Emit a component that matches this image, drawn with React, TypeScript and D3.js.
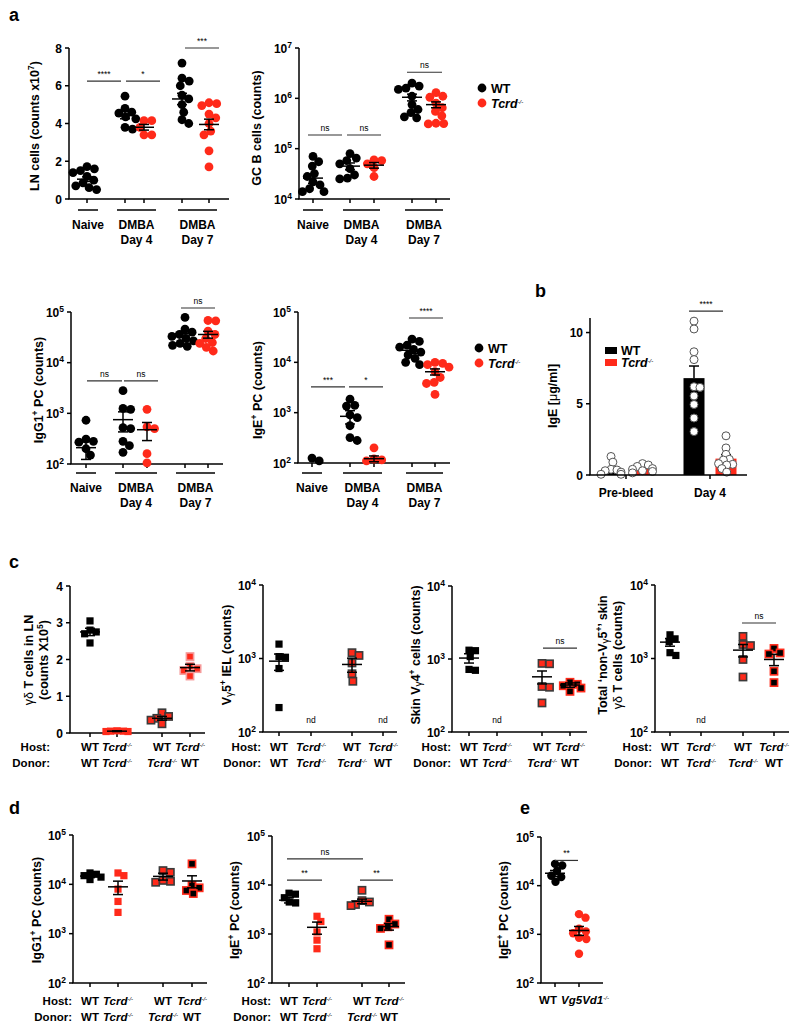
import React from 'react';
import * as d3 from 'd3';

// ================= DATA =================
// Panel a — groups: Naive WT, DMBA D4 WT, DMBA D4 Tcrd-/-, DMBA D7 WT, DMBA D7 Tcrd-/-
const aGenotypes = ['WT', 'WT', 'Tcrd', 'WT', 'Tcrd'];
const aConditionLabels = ['Naive', 'DMBA', 'DMBA'];
const aDayLabels = ['', 'Day 4', 'Day 7'];

const lnTicks = [0, 2, 4, 6, 8];
const lnValues = [
  [1.72, 1.6, 1.5, 1.4, 1.2, 1.0, 0.85, 0.7, 0.6, 0.5],
  [5.45, 4.8, 4.6, 4.55, 4.35, 4.25, 3.8, 3.7],
  [4.15, 4.15, 3.8, 3.4, 3.4],
  [7.2, 6.4, 6.25, 6.0, 5.5, 5.3, 5.0, 4.6, 4.2, 4.0],
  [5.1, 5.05, 4.95, 4.5, 4.3, 4.0, 3.6, 3.4, 2.55, 1.7],
];
const lnMeans = [1.05, 4.45, 3.8, 5.3, 3.95];
const lnSems = [0.12, 0.2, 0.15, 0.3, 0.28];

const gcTicks = [1e4, 1e5, 1e6, 1e7];
const gcValues = [
  [70000, 55000, 45000, 32000, 28000, 22000, 19000, 16000, 14000, 14000],
  [80000, 65000, 58000, 50000, 40000, 30000, 26000, 25000],
  [60000, 58000, 50000, 42000, 28000],
  [2.0e6, 1.75e6, 1.6e6, 1.5e6, 1.1e6, 7.5e5, 6e5, 5.2e5, 4.3e5, 4.1e5],
  [1.3e6, 1.1e6, 1.05e6, 8e5, 6.5e5, 5.5e5, 4.5e5, 3.2e5, 3.15e5, 3.1e5],
];
const gcMeans = [26000, 45000, 47000, 1.05e6, 7.5e5];
const gcSems = [5500, 7000, 6000, 1.6e5, 1.0e5];

const pcTicks = [1e2, 1e3, 1e4, 1e5];
const igg1Values = [
  [730, 310, 280, 270, 200, 150],
  [2800, 1250, 1200, 520, 500, 280, 230, 170],
  [1200, 540, 500, 160, 105],
  [78000, 46000, 40000, 36000, 33000, 30000, 27000, 24000, 22000, 21000],
  [68000, 67000, 42000, 36000, 30000, 25000, 24000, 20000, 17000],
];
const igg1Means = [210, 750, 475, 37600, 36000];
const igg1Sems = [87, 320, 185, 4000, 5500];

const igeValues = [
  [125, 110],
  [1850, 1400, 1350, 900, 800, 550, 320, 280],
  [200, 120, 115, 110],
  [29000, 26000, 22000, 20000, 18000, 16000, 14000, 12000, 10000, 9000],
  [10000, 9500, 9000, 8000, 6500, 5000, 4000, 3800, 2300],
];
const igeMeans = [null, 846, 122, 17400, 6500];
const igeSems = [0, 250, 16, 2500, 900];

// Panel b — serum IgE (µg/ml)
const bCategories = ['Pre-bleed', 'Day 4'];
const bTicks = [0, 5, 10];
const bValues = [
  [1.3, 0.9, 0.4, 0.35, 0.3, 0.2, 0.05, 0.05],
  [0.8, 0.7, 0.6, 0.45, 0.4, 0.3, 0.25, 0.15],
  [10.8, 10.25, 8.65, 8.1, 6.2, 6.15, 5.55, 4.95, 4.0, 3.05],
  [2.75, 1.9, 1.45, 1.1, 1.05, 0.8, 0.75, 0.7, 0.45, 0.2],
];
const bMeans = [0.3, 0.5, 6.8, 1.15];
const bSems = [0.15, 0.08, 0.85, 0.28];

// Panel c / d — chimeras: host / donor
const chimeraHost = ['WT', 'Tcrd', 'WT', 'Tcrd'];
const chimeraDonor = ['WT', 'Tcrd', 'Tcrd', 'WT'];

const gdTicks = [0, 1, 2, 3, 4];
const gdValues = [
  [3.05, 2.8, 2.75, 2.7, 2.45],
  [0.06, 0.05, 0.05, 0.04, 0.04],
  [0.55, 0.45, 0.4, 0.35, 0.25],
  [2.08, 1.82, 1.75, 1.7, 1.55],
];
const gdMeans = [2.75, 0.05, 0.4, 1.78];
const gdSems = [0.1, 0.01, 0.05, 0.09];

const cLogTicks = [1e2, 1e3, 1e4];
const ielValues = [[1570, 1060, 1040, 730, 215], [], [1200, 1100, 870, 620, 490], []];
const ielMeans = [920, null, 830, null];
const ielSems = [230, 0, 180, 0];

const skinV4Values = [[1320, 1300, 1080, 720, 700], [], [870, 860, 420, 410, 250], [480, 450, 430, 400, 360]];
const skinV4Means = [1030, null, 570, 440];
const skinV4Sems = [150, 0, 115, 30];

const nonV5Values = [[2100, 1850, 1700, 1200, 1100], [], [2000, 1550, 1500, 970, 560], [1370, 1190, 1150, 670, 470]];
const nonV5Means = [1670, null, 1300, 970];
const nonV5Sems = [200, 0, 250, 170];

const dIgg1Values = [
  [17000, 16000, 15000, 14000, 12500],
  [17000, 15000, 8000, 4500, 2700],
  [19000, 17500, 12000, 11500, 11000],
  [26000, 9500, 8500, 7500, 6500],
];
const dIgg1Means = [14700, 8900, 14500, 11700];
const dIgg1Sems = [1000, 2700, 2300, 3200];

const dIgeValues = [
  [6800, 6500, 5500, 4500, 4300],
  [2300, 1800, 1100, 750, 500],
  [7800, 4800, 4500, 4000, 3800],
  [2000, 1600, 1400, 1300, 600],
];
const dIgeMeans = [4900, 1370, 4650, 1420];
const dIgeSems = [600, 380, 500, 220];

// Panel e
const eCategories = ['WT', 'Vg5Vd1'];
const eValues = [
  [28000, 26000, 20000, 16000, 15000, 12000],
  [2600, 2200, 1300, 1150, 1050, 850, 800, 400],
];
const eMeans = [18000, 1200];
const eSems = [2500, 250];

// ================= STYLE =================
const FONT = "'Liberation Sans', Arial, Helvetica, sans-serif";
const NARROW = "'Liberation Sans Narrow', 'Liberation Sans', Arial, sans-serif";
const RED = '#ff2a1a';

type Style = { shape: 'circle' | 'square'; fill: string; stroke?: string };
const cBlack: Style = { shape: 'circle', fill: '#000' };
const cRed: Style = { shape: 'circle', fill: RED };
const sBlack: Style = { shape: 'square', fill: '#000' };
const sRed: Style = { shape: 'square', fill: RED };
const sRedDark: Style = { shape: 'square', fill: RED, stroke: '#3a3a3a' };
const sBlackRed: Style = { shape: 'square', fill: '#000', stroke: RED };
const sRedPink: Style = { shape: 'square', fill: RED, stroke: '#f59a9a' };

const aStyles = [cBlack, cBlack, cRed, cBlack, cRed];
const chimeraStyles = [sBlack, sRed, sRedDark, sBlackRed];

// ================= HELPERS =================
function swarmOffsets(ys: number[], r: number, factor = 0.88, maxSpread = 14): number[] {
  const order = ys.map((_, i) => i).sort((a, b) => ys[a] - ys[b]);
  const placed: { x: number; y: number }[] = [];
  const out = new Array(ys.length).fill(0);
  const d = 2 * r * factor;
  for (const i of order) {
    const y = ys[i];
    const iv: [number, number][] = [];
    for (const p of placed) {
      const dy = Math.abs(p.y - y);
      if (dy < d) {
        const w = Math.sqrt(d * d - dy * dy);
        iv.push([p.x - w, p.x + w]);
      }
    }
    const cands = [0, ...iv.flatMap(([a, b]) => [a, b])];
    const ok = cands.filter((c) => iv.every(([a, b]) => c <= a + 1e-6 || c >= b - 1e-6));
    ok.sort((a, b) => Math.abs(a) - Math.abs(b) || b - a);
    let xx = ok.length ? ok[0] : 0;
    xx = Math.max(-maxSpread, Math.min(maxSpread, xx));
    placed.push({ x: xx, y });
    out[i] = xx;
  }
  return out;
}

function Geno({ name, supSize = 6 }: { name: string; supSize?: number }) {
  if (name === 'WT') return <tspan>WT</tspan>;
  return (
    <>
      <tspan fontStyle="italic">{name}</tspan>
      <tspan fontStyle="italic" fontWeight="normal" fontSize={supSize} dy={-4}>-/-</tspan>
    </>
  );
}

function TickLabel({ v, log }: { v: number; log: boolean }) {
  if (!log) return <>{String(v)}</>;
  return (
    <>
      <tspan>10</tspan>
      <tspan fontSize={8.5} dy={-5}>{Math.round(Math.log10(v))}</tspan>
    </>
  );
}

interface Panel {
  axisX: number; yTop: number; yBottom: number; xEnd: number;
  log: boolean; domain: [number, number]; ticks: number[];
  groupX: number[]; values: number[][]; means: (number | null)[]; sems: number[];
  styles: Style[];
  sig?: { x1: number; x2: number; v: number; label: string }[];
  nd?: number[]; ndY?: number; r?: number; half?: number;
}

function DotPanel({ p }: { p: Panel }) {
  const y: any = p.log
    ? d3.scaleLog().domain(p.domain).range([p.yBottom, p.yTop])
    : d3.scaleLinear().domain(p.domain).range([p.yBottom, p.yTop]);
  const r = p.r ?? 4.4;
  const half = p.half ?? 3.6;
  return (
    <g>
      {/* axes */}
      <line x1={p.axisX} x2={p.axisX} y1={p.yTop} y2={p.yBottom} stroke="#000" strokeWidth={1.5} />
      <line x1={p.axisX - 0.75} x2={p.xEnd} y1={p.yBottom} y2={p.yBottom} stroke="#000" strokeWidth={1.5} />
      {p.ticks.map((t) => (
        <g key={'t' + t}>
          <line x1={p.axisX - 4} x2={p.axisX} y1={y(t)} y2={y(t)} stroke="#000" strokeWidth={1.5} />
          <text x={p.axisX - 7} y={y(t) + 4.5} textAnchor="end" fontSize={12} fontWeight="bold">
            <TickLabel v={t} log={p.log} />
          </text>
        </g>
      ))}
      {p.groupX.map((gx, i) => (
        <line key={'xt' + i} x1={gx} x2={gx} y1={p.yBottom} y2={p.yBottom + 4} stroke="#000" strokeWidth={1.5} />
      ))}
      {/* points */}
      {p.values.map((vals, gi) => {
        const ys = vals.map((v) => y(v));
        const st = p.styles[gi];
        const sp = st.shape === 'square' ? half + (st.stroke ? 0.6 : 0) : r;
        const dx = swarmOffsets(ys, sp, st.shape === 'square' ? 0.9 : 0.88, st.shape === 'square' ? 11 : 14);
        return (
          <g key={'g' + gi}>
            {ys.map((yy, k) =>
              st.shape === 'circle' ? (
                <circle key={k} cx={p.groupX[gi] + dx[k]} cy={yy} r={r} fill={st.fill} />
              ) : (
                <rect key={k} x={p.groupX[gi] + dx[k] - half} y={yy - half} width={half * 2} height={half * 2}
                  fill={st.fill} stroke={st.stroke ?? 'none'} strokeWidth={st.stroke ? 1.6 : 0} />
              )
            )}
          </g>
        );
      })}
      {/* mean ± SEM */}
      {p.means.map((m, gi) => {
        if (m === null) return null;
        const cx = p.groupX[gi];
        const ym = y(m), yh = y(m + p.sems[gi]), yl = y(Math.max(m - p.sems[gi], p.log ? p.domain[0] : 0));
        return (
          <g key={'m' + gi} stroke="#000" strokeWidth={1.5}>
            <line x1={cx - 10} x2={cx + 10} y1={ym} y2={ym} />
            <line x1={cx} x2={cx} y1={yh} y2={yl} />
            <line x1={cx - 5} x2={cx + 5} y1={yh} y2={yh} />
            <line x1={cx - 5} x2={cx + 5} y1={yl} y2={yl} />
          </g>
        );
      })}
      {/* significance */}
      {(p.sig ?? []).map((s, i) => (
        <g key={'s' + i}>
          <line x1={s.x1} x2={s.x2} y1={y(s.v)} y2={y(s.v)} stroke="#333" strokeWidth={1.2} />
          <text x={(s.x1 + s.x2) / 2} y={y(s.v) - 4} textAnchor="middle" fontSize={8.5} fontFamily={NARROW}>{s.label}</text>
        </g>
      ))}
      {(p.nd ?? []).map((gi) => (
        <text key={'nd' + gi} x={p.groupX[gi]} y={p.ndY ?? 0} textAnchor="middle" fontSize={8.5} fontFamily={NARROW}>nd</text>
      ))}
    </g>
  );
}

function YTitle({ x, y, children, size = 12.5 }: { x: number; y: number; children: any; size?: number }) {
  return (
    <text transform={`translate(${x},${y}) rotate(-90)`} textAnchor="middle" fontSize={size} fontWeight="bold">
      {children}
    </text>
  );
}

function ALabels({ segs, y }: { segs: [number, number][]; y: number }) {
  return (
    <g>
      {segs.map(([a, b], i) => (
        <g key={i}>
          <line x1={a} x2={b} y1={y} y2={y} stroke="#000" strokeWidth={1.5} />
          <text x={(a + b) / 2} y={y + 19} textAnchor="middle" fontSize={12} fontWeight="bold">{aConditionLabels[i]}</text>
          {aDayLabels[i] && (
            <text x={(a + b) / 2} y={y + 34} textAnchor="middle" fontSize={12} fontWeight="bold">{aDayLabels[i]}</text>
          )}
        </g>
      ))}
    </g>
  );
}

function HostDonor({ right, groupX, yHost }: { right: number; groupX: number[]; yHost: number }) {
  return (
    <g fontSize={11.5} fontWeight="bold">
      <text x={right} y={yHost} textAnchor="end">Host:</text>
      <text x={right} y={yHost + 16} textAnchor="end">Donor:</text>
      {groupX.map((gx, i) => (
        <g key={i}>
          <text x={gx} y={yHost} textAnchor="middle"><Geno name={chimeraHost[i]} /></text>
          <text x={gx} y={yHost + 16} textAnchor="middle"><Geno name={chimeraDonor[i]} /></text>
        </g>
      ))}
    </g>
  );
}

function Legend({ x, y }: { x: number; y: number }) {
  return (
    <g fontSize={12.5} fontWeight="bold">
      <circle cx={x} cy={y} r={4.4} fill="#000" />
      <text x={x + 9} y={y + 4.5}>WT</text>
      <circle cx={x} cy={y + 15} r={4.4} fill={RED} />
      <text x={x + 9} y={y + 19.5}><Geno name="Tcrd" /></text>
    </g>
  );
}

function Sup({ t }: { t: string }) {
  return <tspan fontSize={8.5} dy={-5}>{t}</tspan>;
}

function Gamma({ t = 'γ' }: { t?: string }) {
  return <tspan fontWeight="normal" fontSize={10} dy={2}>{t}</tspan>;
}

function BPanel() {
  const axisX = 590, yTop = 318, yBottom = 475, xEnd = 747;
  const y = d3.scaleLinear().domain([0, 11]).range([yBottom, yTop + 0.3]);
  const barX = [611, 642.5, 694, 726];
  const catX = [626, 710];
  const bw = 21;
  const fills = ['#000', RED, '#000', RED];
  return (
    <g>
      {bValues.map((_, i) => (
        <rect key={'b' + i} x={barX[i] - bw / 2} y={y(bMeans[i])} width={bw} height={y(0) - y(bMeans[i])} fill={fills[i]} />
      ))}
      {bMeans.map((m, i) => (
        <g key={'e' + i} stroke="#000" strokeWidth={1.5}>
          <line x1={barX[i]} x2={barX[i]} y1={y(m)} y2={y(m + bSems[i])} />
          <line x1={barX[i] - 5} x2={barX[i] + 5} y1={y(m + bSems[i])} y2={y(m + bSems[i])} />
        </g>
      ))}
      {bValues.map((vals, i) => {
        const ys = vals.map((v) => y(v));
        const dx = swarmOffsets(ys, 4, 0.75, 10);
        return (
          <g key={'p' + i}>
            {ys.map((yy, k) => (
              <circle key={k} cx={barX[i] + dx[k]} cy={yy} r={4} fill="#fff" stroke="#555" strokeWidth={1} />
            ))}
          </g>
        );
      })}
      <line x1={axisX} x2={axisX} y1={yTop} y2={yBottom} stroke="#000" strokeWidth={1.5} />
      <line x1={axisX - 0.75} x2={xEnd} y1={yBottom} y2={yBottom} stroke="#000" strokeWidth={1.5} />
      {bTicks.map((t) => (
        <g key={t}>
          <line x1={axisX - 4} x2={axisX} y1={y(t)} y2={y(t)} stroke="#000" strokeWidth={1.5} />
          <text x={axisX - 7} y={y(t) + 4.5} textAnchor="end" fontSize={12} fontWeight="bold">{t}</text>
        </g>
      ))}
      {catX.map((cx, i) => (
        <g key={'c' + i}>
          <line x1={cx} x2={cx} y1={yBottom} y2={yBottom + 4} stroke="#000" strokeWidth={1.5} />
          <text x={cx} y={yBottom + 22} textAnchor="middle" fontSize={12} fontWeight="bold">{bCategories[i]}</text>
        </g>
      ))}
      <line x1={689} x2={723} y1={y(11.5)} y2={y(11.5)} stroke="#333" strokeWidth={1.2} />
      <text x={706} y={y(11.5) - 4} textAnchor="middle" fontSize={8.5} fontFamily={NARROW}>****</text>
      <g fontSize={12.5} fontWeight="bold">
        <rect x={605} y={347} width={12} height={7} fill="#000" />
        <text x={621} y={355}>WT</text>
        <rect x={605} y={359} width={12} height={7} fill={RED} />
        <text x={621} y={367}><Geno name="Tcrd" /></text>
      </g>
      <YTitle x={557} y={396}>
        <tspan>IgE [</tspan><tspan fontWeight="normal">μ</tspan><tspan>g/ml]</tspan>
      </YTitle>
    </g>
  );
}

function EPanel() {
  const p: Panel = {
    axisX: 541, yTop: 837, yBottom: 983, xEnd: 603, log: true, domain: [1e2, 1e5], ticks: pcTicks,
    groupX: [555, 579], values: eValues, means: eMeans, sems: eSems, styles: [cBlack, cRed], r: 4.2,
    sig: [{ x1: 555, x2: 578, v: 33000, label: '**' }],
  };
  const labelX = [548, 585];
  return (
    <g>
      <DotPanel p={p} />
      {eCategories.map((c, i) => (
        <text key={c} x={labelX[i]} y={1004} textAnchor="middle" fontSize={11.5} fontWeight="bold">
          <Geno name={c} />
        </text>
      ))}
      <YTitle x={508} y={910}><tspan>IgE</tspan><Sup t="+" /><tspan dy={5}> PC (counts)</tspan></YTitle>
    </g>
  );
}

export default function App() {
  const a1: Panel = {
    axisX: 69, yTop: 48, yBottom: 199, xEnd: 229, log: false, domain: [0, 8], ticks: lnTicks,
    groupX: [87, 125, 144, 182, 209], values: lnValues, means: lnMeans, sems: lnSems, styles: aStyles,
    sig: [{ x1: 87, x2: 121, v: 6.24, label: '****' }, { x1: 126, x2: 160, v: 6.24, label: '*' }, { x1: 185, x2: 219, v: 8.0, label: '***' }],
  };
  const a2: Panel = {
    axisX: 299, yTop: 48, yBottom: 199, xEnd: 450, log: true, domain: [1e4, 1e7], ticks: gcTicks,
    groupX: [313, 350, 374, 412, 436], values: gcValues, means: gcMeans, sems: gcSems, styles: aStyles,
    sig: [{ x1: 308, x2: 342, v: 1.87e5, label: 'ns' }, { x1: 347, x2: 381, v: 1.87e5, label: 'ns' }, { x1: 407, x2: 442, v: 3.3e6, label: 'ns' }],
  };
  const a3: Panel = {
    axisX: 71, yTop: 312, yBottom: 464, xEnd: 223, log: true, domain: [1e2, 1e5], ticks: pcTicks,
    groupX: [86, 123, 147, 185, 208], values: igg1Values, means: igg1Means, sems: igg1Sems, styles: aStyles,
    sig: [{ x1: 87, x2: 122, v: 4370, label: 'ns' }, { x1: 124, x2: 158, v: 4370, label: 'ns' }, { x1: 181, x2: 215, v: 1.2e5, label: 'ns' }],
  };
  const a4: Panel = {
    axisX: 298, yTop: 312, yBottom: 463, xEnd: 450, log: true, domain: [1e2, 1e5], ticks: pcTicks,
    groupX: [312, 350, 374, 412, 435], values: igeValues, means: igeMeans, sems: igeSems, styles: aStyles,
    sig: [{ x1: 311, x2: 345, v: 3240, label: '***' }, { x1: 349, x2: 383, v: 3240, label: '*' }, { x1: 409, x2: 443, v: 76000, label: '****' }],
  };
  const c1: Panel = {
    axisX: 70, yTop: 586, yBottom: 733, xEnd: 205, log: false, domain: [0, 4], ticks: gdTicks,
    groupX: [90, 117, 162, 190], values: gdValues, means: gdMeans, sems: gdSems,
    styles: [sBlack, sRed, sRedDark, sRedPink],
  };
  const c2: Panel = {
    axisX: 263, yTop: 585, yBottom: 732, xEnd: 397, log: true, domain: [1e2, 1e4], ticks: cLogTicks,
    groupX: [279, 311, 352, 383], values: ielValues, means: ielMeans, sems: ielSems, styles: chimeraStyles,
    nd: [1, 3], ndY: 723,
  };
  const c3: Panel = {
    axisX: 452, yTop: 586, yBottom: 732, xEnd: 587, log: true, domain: [1e2, 1e4], ticks: cLogTicks,
    groupX: [469, 497, 542, 570], values: skinV4Values, means: skinV4Means, sems: skinV4Sems, styles: chimeraStyles,
    nd: [1], ndY: 723, sig: [{ x1: 543, x2: 577, v: 1410, label: 'ns' }],
  };
  const c4: Panel = {
    axisX: 655, yTop: 585, yBottom: 732, xEnd: 789, log: true, domain: [1e2, 1e4], ticks: cLogTicks,
    groupX: [670, 701, 743, 774], values: nonV5Values, means: nonV5Means, sems: nonV5Sems, styles: chimeraStyles,
    nd: [1], ndY: 723, sig: [{ x1: 742, x2: 776, v: 3040, label: 'ns' }],
  };
  const d1: Panel = {
    axisX: 73, yTop: 835, yBottom: 983, xEnd: 207, log: true, domain: [1e2, 1e5], ticks: pcTicks,
    groupX: [90, 118, 163, 192], values: dIgg1Values, means: dIgg1Means, sems: dIgg1Sems, styles: chimeraStyles,
  };
  const d2: Panel = {
    axisX: 272, yTop: 836, yBottom: 983, xEnd: 405, log: true, domain: [1e2, 1e5], ticks: pcTicks,
    groupX: [289, 317, 362, 389], values: dIgeValues, means: dIgeMeans, sems: dIgeSems, styles: chimeraStyles,
    sig: [{ x1: 287, x2: 363, v: 34000, label: 'ns' }, { x1: 287, x2: 322, v: 12600, label: '**' }, { x1: 360, x2: 393, v: 12600, label: '**' }],
  };

  return (
    <svg width={800} height={1031} fontFamily={FONT} style={{ position: 'absolute', left: 0, top: 0, display: 'block' }}>
      <rect width={800} height={1031} fill="#fff" />
      {/* panel letters */}
      <g fontSize={18} fontWeight="bold">
        <text x={9} y={21}>a</text>
        <text x={535} y={297}>b</text>
        <text x={9} y={568}>c</text>
        <text x={9} y={814}>d</text>
        <text x={520} y={814}>e</text>
      </g>

      {/* ---- a ---- */}
      <DotPanel p={a1} />
      <ALabels segs={[[78, 98], [117, 156], [178, 217]]} y={210} />
      <YTitle x={39} y={126}><tspan>LN cells (counts x10</tspan><Sup t="7" /><tspan dy={5}>)</tspan></YTitle>

      <DotPanel p={a2} />
      <ALabels segs={[[303, 323], [343, 380], [405, 443]]} y={210} />
      <YTitle x={261} y={128}>GC B cells (counts)</YTitle>
      <Legend x={482} y={88} />

      <DotPanel p={a3} />
      <ALabels segs={[[76, 96], [115, 157], [176, 215]]} y={473} />
      <YTitle x={43} y={390}><tspan>IgG1</tspan><Sup t="+" /><tspan dy={5}> PC (counts)</tspan></YTitle>

      <DotPanel p={a4} />
      <ALabels segs={[[302, 322], [343, 382], [406, 443]]} y={473} />
      <YTitle x={262} y={390}><tspan>IgE</tspan><Sup t="+" /><tspan dy={5}> PC (counts)</tspan></YTitle>
      <Legend x={479} y={348} />

      {/* ---- b ---- */}
      <BPanel />

      {/* ---- c ---- */}
      <DotPanel p={c1} />
      <YTitle x={33} y={660}><tspan fontWeight="normal" fontSize={12.5}>γδ</tspan><tspan> T cells in LN</tspan></YTitle>
      <YTitle x={48} y={660}><tspan>(counts X10</tspan><Sup t="5" /><tspan dy={5}>)</tspan></YTitle>
      <HostDonor right={50} groupX={c1.groupX} yHost={751} />

      <DotPanel p={c2} />
      <YTitle x={231} y={655}><tspan>V</tspan><Gamma /><tspan dy={-2}>5</tspan><Sup t="+" /><tspan dy={5}> IEL (counts)</tspan></YTitle>
      <HostDonor right={261} groupX={c2.groupX} yHost={751} />

      <DotPanel p={c3} />
      <YTitle x={420} y={655}><tspan>Skin V</tspan><Gamma /><tspan dy={-2}>4</tspan><Sup t="+" /><tspan dy={5}> cells (counts)</tspan></YTitle>
      <HostDonor right={451} groupX={c3.groupX} yHost={751} />

      <DotPanel p={c4} />
      <YTitle x={607} y={655}><tspan>Total ‘non-V</tspan><Gamma /><tspan dy={-2}>5</tspan><Sup t="+" /><tspan dy={5}>’ skin</tspan></YTitle>
      <YTitle x={622} y={655}><tspan fontWeight="normal" fontSize={12.5}>γδ</tspan><tspan> T cells (counts)</tspan></YTitle>
      <HostDonor right={652} groupX={c4.groupX} yHost={751} />

      {/* ---- d ---- */}
      <DotPanel p={d1} />
      <YTitle x={41} y={910}><tspan>IgG1</tspan><Sup t="+" /><tspan dy={5}> PC (counts)</tspan></YTitle>
      <HostDonor right={72} groupX={d1.groupX} yHost={1005} />

      <DotPanel p={d2} />
      <YTitle x={239} y={910}><tspan>IgE</tspan><Sup t="+" /><tspan dy={5}> PC (counts)</tspan></YTitle>
      <HostDonor right={271} groupX={d2.groupX} yHost={1005} />

      {/* ---- e ---- */}
      <EPanel />
    </svg>
  );
}
